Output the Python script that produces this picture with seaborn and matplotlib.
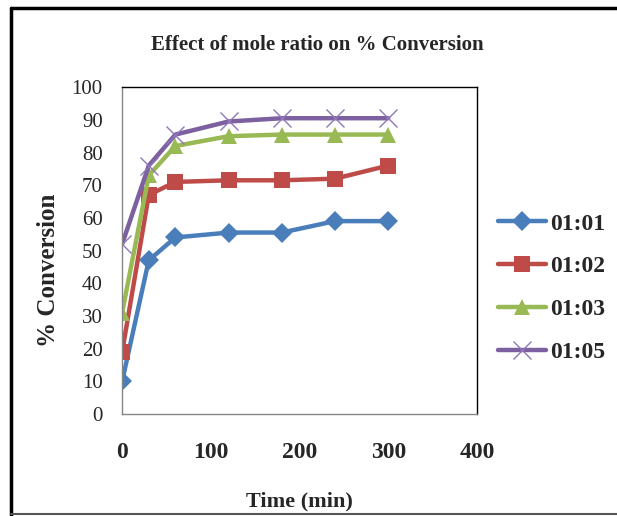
import matplotlib
matplotlib.use("Agg")
import matplotlib.pyplot as plt
from matplotlib.lines import Line2D
import seaborn as sns
import pandas as pd

time_min = [0, 30, 60, 120, 180, 240, 300]
ratio_labels = ["01:01", "01:02", "01:03", "01:05"]
conv_1_1 = [10, 47, 54, 55.5, 55.5, 59, 59]
conv_1_2 = [19, 67, 71, 71.5, 71.5, 72, 76]
conv_1_3 = [31, 73, 82, 85, 85.5, 85.5, 85.5]
conv_1_5 = [52, 76, 85.5, 89.5, 90.5, 90.5, 90.5]

series = [conv_1_1, conv_1_2, conv_1_3, conv_1_5]

sns.set_style("white")
plt.rcParams['font.family'] = ['Liberation Serif', 'DejaVu Serif']

colors = ["#4A7EBB", "#BE4B48", "#98B954", "#7D60A0"]
markers = ["D", "s", "^", "x"]
msizes = [10.5, 11.5, 12, 13]

fig = plt.figure(figsize=(6.17, 5.16), dpi=100)
ax = fig.add_axes([0.198, 0.198, 0.575, 0.633])

for lab, vals, c, m, ms in zip(ratio_labels, series, colors, markers, msizes):
    d = pd.DataFrame({"Time": time_min, "Conversion": vals})
    if m == "x":
        sns.lineplot(data=d, x="Time", y="Conversion", color=c, marker=m,
                     markersize=ms, markeredgewidth=1.0, markeredgecolor="#8F78B8",
                     linewidth=3.2, ax=ax)
    else:
        sns.lineplot(data=d, x="Time", y="Conversion", color=c, marker=m,
                     markersize=ms, markeredgewidth=0, linewidth=3.2, ax=ax)

ax.set_xlim(0, 400)
ax.set_ylim(0, 100)
ax.set_xticks([0, 100, 200, 300, 400])
ax.set_yticks(range(0, 101, 10))
for sp in ax.spines.values():
    sp.set_color("#868686")
    sp.set_linewidth(1.0)
ax.spines["top"].set_color("black")
ax.spines["right"].set_color("black")
ax.tick_params(axis="both", length=0)
ax.tick_params(axis="x", pad=20, labelsize=17)
ax.tick_params(axis="y", pad=14, labelsize=15)
for t in ax.get_xticklabels():
    t.set_fontweight("bold")

ax.set_xlabel("Time (min)", fontsize=16, fontweight="bold", labelpad=21)
ax.set_ylabel("% Conversion", fontsize=18, fontweight="bold")
ax.yaxis.set_label_coords(-0.175, 0.44)
fig.text(0.515, 0.913, "Effect of mole ratio on % Conversion", ha="center",
         va="center", fontsize=15, fontweight="bold")

handles = [Line2D([0], [0], color=c, marker=m, linewidth=3.2, markersize=ms,
                  markeredgewidth=(1.0 if m == "x" else 0),
                  markeredgecolor=("#8F78B8" if m == "x" else c))
           for c, m, ms in zip(colors, markers, msizes)]
fig.legend(handles, ratio_labels, loc="center left", bbox_to_anchor=(0.772, 0.442),
           frameon=False, prop={"family": "Liberation Serif", "weight": "bold", "size": 17},
           handlelength=2.04, handletextpad=0.2, labelspacing=0.9)

# outer frame
fig.add_artist(Line2D([0.018, 0.018], [0.0, 0.984], transform=fig.transFigure, color="black", linewidth=2.5))
fig.add_artist(Line2D([0.018, 1.0], [0.984, 0.984], transform=fig.transFigure, color="black", linewidth=2.5))
fig.add_artist(Line2D([0.018, 1.0], [0.004, 0.004], transform=fig.transFigure, color="#555555", linewidth=1.5))

fig.savefig("out.png", dpi=100)
